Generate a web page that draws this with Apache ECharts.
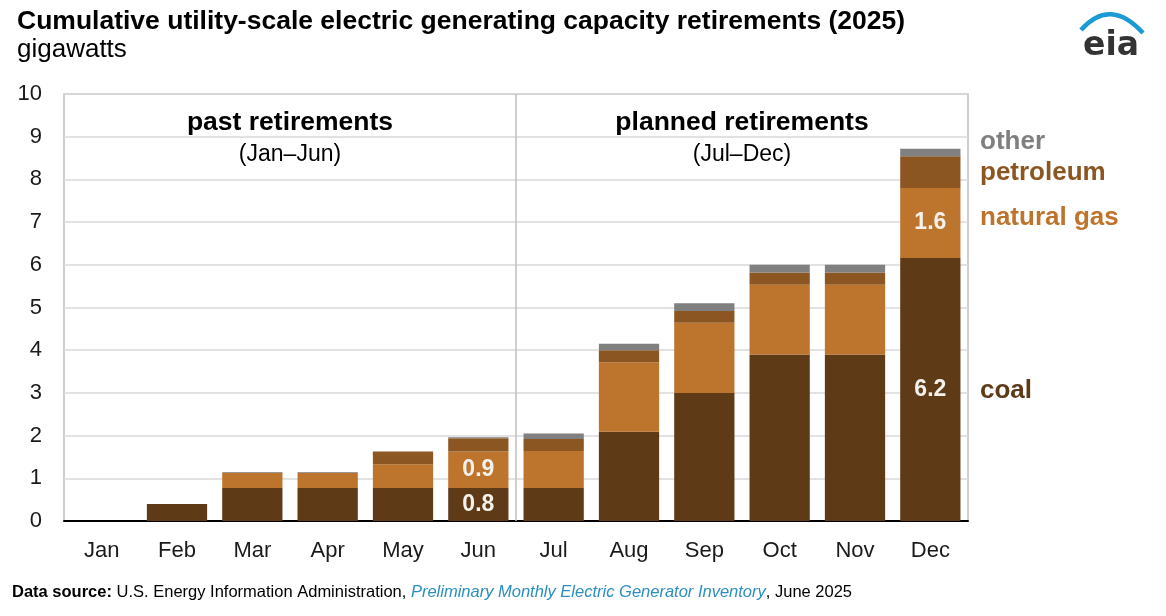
<!DOCTYPE html>
<html>
<head>
<meta charset="utf-8">
<script src="https://cdn.jsdelivr.net/npm/echarts@6/dist/echarts.min.js"></script>
<style>
html,body{margin:0;padding:0;background:#fff;}
#c{width:1166px;height:616px;}
</style>
</head>
<body>
<div id="c"></div>
<script>
const months = ['Jan','Feb','Mar','Apr','May','Jun','Jul','Aug','Sep','Oct','Nov','Dec'];
const coal = [0, 0.40, 0.77, 0.77, 0.77, 0.77, 0.77, 2.09, 3.00, 3.90, 3.90, 6.16];
const naturalGas = [0, 0, 0.36, 0.36, 0.56, 0.86, 0.87, 1.63, 1.64, 1.63, 1.63, 1.64];
const petroleum = [0, 0, 0, 0, 0.30, 0.31, 0.28, 0.28, 0.28, 0.29, 0.29, 0.74];
const other = [0, 0, 0.02, 0.02, 0, 0.02, 0.13, 0.15, 0.18, 0.18, 0.18, 0.18];
const labeledMonths = ['Jun', 'Dec'];
const yTicks = [0,1,2,3,4,5,6,7,8,9,10];

(function(){
const FONT = '"Liberation Sans", Arial, sans-serif';
const colors = {coal:'#5e3a16', gas:'#bd742d', pet:'#8c5623', other:'#808080'};

function mkData(arr, labeled){
  return arr.map((v,i)=>{
    if (labeled && labeledMonths.includes(months[i])) {
      return {value:v, label:{show:true, position:'inside', formatter:(Math.round(v*10)/10).toFixed(1),
        color:'#f4f1ec', fontSize:23, fontWeight:'bold', fontFamily:FONT}};
    }
    return v;
  });
}

const chart = echarts.init(document.getElementById('c'));
const gridOpt = {left:64, right:198, top:94, bottom:95, show:true, borderColor:'#bfbfbf', borderWidth:1.5, containLabel:false};

function series(name, arr, color, labeled){
  return {name, type:'bar', stack:'t', data:mkData(arr, labeled), barCategoryGap:'20%',
    itemStyle:{color},
    emphasis:{disabled:true}, label:{show:false}};
}

chart.setOption({
  animation:false,
  textStyle:{fontFamily:FONT},
  grid:gridOpt,
  xAxis:{type:'category', data:months,
    axisLine:{lineStyle:{color:'#000', width:2}},
    axisTick:{show:false},
    axisLabel:{color:'#1a1a1a', fontSize:22, margin:19, fontFamily:FONT}},
  yAxis:{type:'value', min:yTicks[0], max:yTicks[yTicks.length-1], interval:1,
    axisLine:{show:false}, axisTick:{show:false},
    splitLine:{lineStyle:{color:'#d9d9d9', width:1.5}},
    axisLabel:{color:'#1a1a1a', fontSize:22, margin:22, fontFamily:FONT}},
  series:[
    series('coal', coal, colors.coal, true),
    series('natural gas', naturalGas, colors.gas, true),
    series('petroleum', petroleum, colors.pet, false),
    series('other', other, colors.other, false)
  ]
});

const x1 = chart.convertToPixel({xAxisIndex:0}, 'Jun');
const x2 = chart.convertToPixel({xAxisIndex:0}, 'Jul');
const sep = (x1+x2)/2;
const yTop = chart.convertToPixel({yAxisIndex:0}, 10);
const yBot = chart.convertToPixel({yAxisIndex:0}, 0);
const gL = 64, gR = 1166-198;

chart.setOption({
  graphic:[
    {type:'line', shape:{x1:sep, y1:yTop, x2:sep, y2:yBot}, style:{stroke:'#bfbfbf', lineWidth:1.5}, z:5},
    {type:'text', x:17, y:22, style:{text:'Cumulative utility-scale electric generating capacity retirements (2025)', fontSize:26.5, fontWeight:'bold', fill:'#000', verticalAlign:'middle', fontFamily:FONT}},
    {type:'text', x:17, y:50, style:{text:'gigawatts', fontSize:26, fill:'#000', verticalAlign:'middle', fontFamily:FONT}},
    {type:'text', x:(gL+sep)/2, y:123, style:{text:'past retirements', fontSize:26.5, fontWeight:'bold', fill:'#000', align:'center', verticalAlign:'middle', fontFamily:FONT}},
    {type:'text', x:(gL+sep)/2, y:155, style:{text:'(Jan–Jun)', fontSize:23, fill:'#000', align:'center', verticalAlign:'middle', fontFamily:FONT}},
    {type:'text', x:(sep+gR)/2, y:123, style:{text:'planned retirements', fontSize:26.5, fontWeight:'bold', fill:'#000', align:'center', verticalAlign:'middle', fontFamily:FONT}},
    {type:'text', x:(sep+gR)/2, y:155, style:{text:'(Jul–Dec)', fontSize:23, fill:'#000', align:'center', verticalAlign:'middle', fontFamily:FONT}},
    {type:'text', x:980, y:142, style:{text:'other', fontSize:26, fontWeight:'bold', fill:'#7f7f7f', verticalAlign:'middle', fontFamily:FONT}},
    {type:'text', x:980, y:173, style:{text:'petroleum', fontSize:26, fontWeight:'bold', fill:colors.pet, verticalAlign:'middle', fontFamily:FONT}},
    {type:'text', x:980, y:218, style:{text:'natural gas', fontSize:26, fontWeight:'bold', fill:colors.gas, verticalAlign:'middle', fontFamily:FONT}},
    {type:'text', x:980, y:391, style:{text:'coal', fontSize:26, fontWeight:'bold', fill:colors.coal, verticalAlign:'middle', fontFamily:FONT}},
    {type:'bezierCurve', shape:{x1:1081, y1:30, x2:1143, y2:33, cpx1:1110, cpy1:-3}, style:{stroke:'#1b9ad6', lineWidth:4.5, fill:null, lineCap:'butt'}},
    {type:'text', x:1083, y:46, style:{text:'eia', fontSize:33, fontWeight:'bold', fill:'#333', verticalAlign:'middle', fontFamily:'"DejaVu Sans", sans-serif'}},
    {type:'text', x:12, y:592, style:{rich:{
        b:{fontSize:16.5, fontWeight:'bold', fill:'#000', fontFamily:FONT},
        n:{fontSize:16.5, fill:'#000', fontFamily:FONT},
        i:{fontSize:16.5, fontStyle:'italic', fill:'#2b8fc0', fontFamily:FONT}},
      verticalAlign:'middle',
      text:'{b|Data source:}{n| U.S. Energy Information Administration, }{i|Preliminary Monthly Electric Generator Inventory}{n|, June 2025}'}}
  ]
});
})();
</script>
</body>
</html>
